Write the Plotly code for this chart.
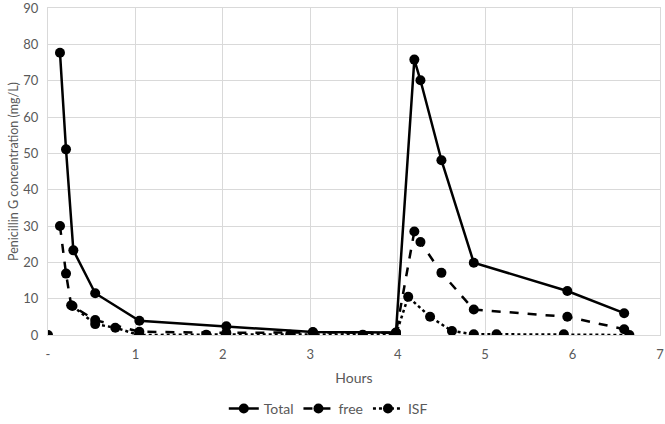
import plotly.graph_objects as go

# Data (hours, mg/L)
total_t = [0, None, 0.137, 0.206, 0.29, 0.54, 1.045, 2.04, 3.03, 3.98, 4.19, 4.26, 4.50, 4.87, 5.94, 6.59]
total_c = [0, None, 77.7, 51.1, 23.3, 11.5, 3.9, 2.4, 0.8, 0.7, 75.8, 70.1, 48.1, 19.9, 12.1, 6.0]

free_t = [0.137, 0.206, 0.265, 0.54, 1.045, 2.04, 3.03, 3.98, 4.19, 4.26, 4.50, 4.87, 5.94, 6.59]
free_c = [30.0, 16.9, 8.2, 4.1, 0.9, 0.6, 0.7, 0.6, 28.5, 25.6, 17.1, 7.0, 5.0, 1.6]

isf_t = [0.28, 0.54, 0.77, 1.04, 1.81, 2.77, 3.6, 3.98, 4.12, 4.37, 4.62, 4.87, 5.13, 5.9, 6.65]
isf_c = [8.0, 3.0, 2.0, 0.0, 0.1, 0.1, 0.1, 0.2, 10.5, 5.0, 1.1, 0.2, 0.2, 0.2, 0.0]

x_tickvals = [0, 1, 2, 3, 4, 5, 6, 7]
x_ticktext = ["-", "1", "2", "3", "4", "5", "6", "7"]
y_tickvals = [0, 10, 20, 30, 40, 50, 60, 70, 80, 90]

FONT = "Lato, Carlito, Calibri, sans-serif"
GREY = "#595959"
GRID = "#d9d9d9"
CLEAR = "rgba(0,0,0,0)"

fig = go.Figure()
fig.add_trace(go.Scatter(
    x=total_t, y=total_c, name="Total", mode="lines+markers",
    connectgaps=False,
    line=dict(color="black", width=2.5, dash="solid"),
    marker=dict(color="black", size=10, symbol="circle"),
))
fig.add_trace(go.Scatter(
    x=free_t, y=free_c, name="free", mode="lines+markers",
    line=dict(color="black", width=2.5, dash="dash"),
    marker=dict(color="black", size=10, symbol="circle"),
))
fig.add_trace(go.Scatter(
    x=isf_t, y=isf_c, name="ISF", mode="lines+markers",
    line=dict(color="black", width=2.5, dash="dot"),
    marker=dict(color="black", size=10, symbol="circle"),
))

fig.update_layout(
    width=665, height=424,
    margin=dict(l=48, r=5, t=8, b=89, autoexpand=False),
    paper_bgcolor="white", plot_bgcolor="white",
    font=dict(family=FONT, size=14, color=GREY),
    showlegend=True,
    legend=dict(orientation="h", x=0.458, xanchor="center",
                y=-0.226, yanchor="middle",
                font=dict(family=FONT, size=14, color=GREY)),
    xaxis=dict(
        range=[0, 7], tickvals=x_tickvals, ticktext=x_ticktext,
        showgrid=True, gridcolor=GRID, gridwidth=1,
        showline=True, linecolor=GRID, linewidth=1, mirror=True,
        zeroline=False, ticks="outside", ticklen=7, tickcolor=CLEAR,
        automargin=False, ticklabeloverflow="allow",
        title=dict(text="Hours", font=dict(family=FONT, size=14, color=GREY), standoff=12),
        tickfont=dict(family=FONT, size=13, color=GREY),
    ),
    yaxis=dict(
        range=[0, 90], tickvals=y_tickvals,
        showgrid=True, gridcolor=GRID, gridwidth=1,
        showline=True, linecolor=GRID, linewidth=1, mirror=True,
        zeroline=False, ticks="outside", ticklen=6, tickcolor=CLEAR,
        automargin=False, ticklabeloverflow="allow",
        title=dict(text="Penicillin G concentration (mg/L)", font=dict(family=FONT, size=12.5, color=GREY), standoff=1),
        tickfont=dict(family=FONT, size=13, color=GREY),
    ),
)

fig.write_html("out.html", config={"displayModeBar": False},
               post_script="document.body.style.margin='0';document.body.style.overflow='hidden';")
